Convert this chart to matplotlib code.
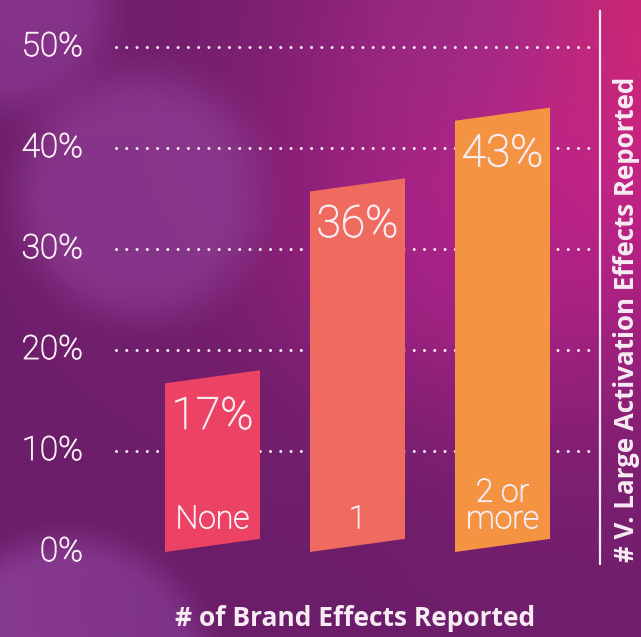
import numpy as np
import matplotlib
matplotlib.use("Agg")
import matplotlib.pyplot as plt
import matplotlib.patheffects as pe
from matplotlib.patches import Polygon

# ---- data -------------------------------------------------------------
categories = ["None", "1", "2 or\nmore"]
values = [17, 36, 43]
bar_colors = ["#EC4263", "#F06B5F", "#F49341"]
ytick_values = [0, 10, 20, 30, 40, 50]
ytick_labels = [f"{v}%" for v in ytick_values]
grid_values = [10, 20, 30, 40, 50]
x_title = "# of Brand Effects Reported"
y_title = "# V. Large Activation Effects Reported"

# ---- canvas -----------------------------------------------------------
W, H = 641, 637
fig = plt.figure(figsize=(W / 100, H / 100), dpi=100)
ax = fig.add_axes([0, 0, 1, 1])
ax.set_axis_off()

# layout scale: one category step and one percent point in pixels
step_px, first_px = 145.0, 212.5
pct_px, zero_px = 10.1, 85.0
xlim = (-first_px / step_px, (W - first_px) / step_px)
ylim = (-zero_px / pct_px, (H - zero_px) / pct_px)
ax.set_xlim(*xlim)
ax.set_ylim(*ylim)

def px_x(p):
    return (p - first_px) / step_px

def px_y(p_from_top):
    return (H - p_from_top - zero_px) / pct_px

# ---- soft purple backdrop with bokeh glows ---------------------------
yy, xx = np.mgrid[0:H, 0:W].astype(float)
img = np.zeros((H, W, 3))
img[:] = np.array([0.43, 0.12, 0.42])

def mix(img, color, weight):
    w = weight[..., None]
    return img * (1 - w) + np.array(color) * w

def gauss(cx, cy, s):
    return np.exp(-((xx - cx) ** 2 + (yy - cy) ** 2) / (2 * s * s))

def disc(cx, cy, r, soft):
    d = np.hypot(xx - cx, yy - cy)
    t = np.clip((r - d) / soft + 0.5, 0, 1)
    return t * t * (3 - 2 * t)

img = mix(img, (0.78, 0.13, 0.54), 0.95 * gauss(600, 130, 190))
img = mix(img, (0.70, 0.15, 0.56), 0.55 * gauss(450, 260, 110))
img = mix(img, (0.84, 0.16, 0.44), 0.8 * gauss(650, 0, 110))
img = mix(img, (0.58, 0.18, 0.54), 0.6 * gauss(460, 20, 90))
img = mix(img, (0.55, 0.23, 0.57), 0.8 * disc(140, 195, 120, 70))
img = mix(img, (0.54, 0.22, 0.57), 0.8 * disc(10, 10, 95, 70))
img = mix(img, (0.55, 0.25, 0.60), 0.85 * disc(70, 680, 140, 50))
img = mix(img, (0.40, 0.11, 0.40), 0.35 * gauss(300, 600, 160))
ax.imshow(np.clip(img, 0, 1), extent=(xlim[0], xlim[1], ylim[0], ylim[1]),
          origin="upper", aspect="auto", zorder=0, interpolation="bilinear")

text_color = "#F7ECF3"
num_font = ["Roboto", "DejaVu Sans"]
bold_font = ["Open Sans", "DejaVu Sans"]
# light figures with a hairline outline for a slightly fuller stroke
light_fx = [pe.withStroke(linewidth=0.7, foreground=text_color)]

# ---- dotted gridlines -----------------------------------------------
gx0, gx1 = px_x(116), px_x(598)
for g in grid_values:
    ax.plot([gx0, gx1], [g, g], color=text_color, lw=2.2,
            linestyle=(0, (0.01, 3.35)), dash_capstyle="round", zorder=1)

# ---- y tick labels --------------------------------------------------
for v, lab in zip(ytick_values, ytick_labels):
    ax.text(px_x(83), v, lab, ha="right", va="center", fontsize=24,
            color=text_color, family=num_font, fontweight="light",
            path_effects=light_fx, zorder=3)

# ---- slanted bars ---------------------------------------------------
width = 95 / step_px
skew = 1.3
for i, (v, c, cat) in enumerate(zip(values, bar_colors, categories)):
    x0, x1 = i - width / 2, i + width / 2
    poly = Polygon([(x0, 0), (x1, skew), (x1, v + 1.0), (x0, v - 0.3)],
                   closed=True, facecolor=c, edgecolor="none", zorder=2)
    ax.add_patch(poly)
    ax.text(i, v - 3.6, f"{v}%", ha="center", va="center", fontsize=32,
            color=text_color, family=num_font, fontweight="light",
            path_effects=light_fx, zorder=3)
    ax.text(i, 1.75, cat, ha="center", va="bottom", fontsize=23,
            color=text_color, family=num_font, fontweight="light",
            linespacing=0.9, path_effects=light_fx, zorder=3)

# ---- right rule and axis titles ----------------------------------------
ax.plot([px_x(600), px_x(600)], [px_y(565), px_y(10)], color=text_color,
        lw=1.6, solid_capstyle="butt", zorder=3)
ax.text(px_x(626), px_y(319), y_title, rotation=90, ha="center", va="center",
        fontsize=18.6, fontweight="bold", color=text_color, family=bold_font,
        zorder=3)
ax.text(px_x(355), px_y(619), x_title, ha="center", va="center",
        fontsize=19, fontweight="bold", color=text_color, family=bold_font,
        zorder=3)

fig.savefig("out.png", dpi=100)
